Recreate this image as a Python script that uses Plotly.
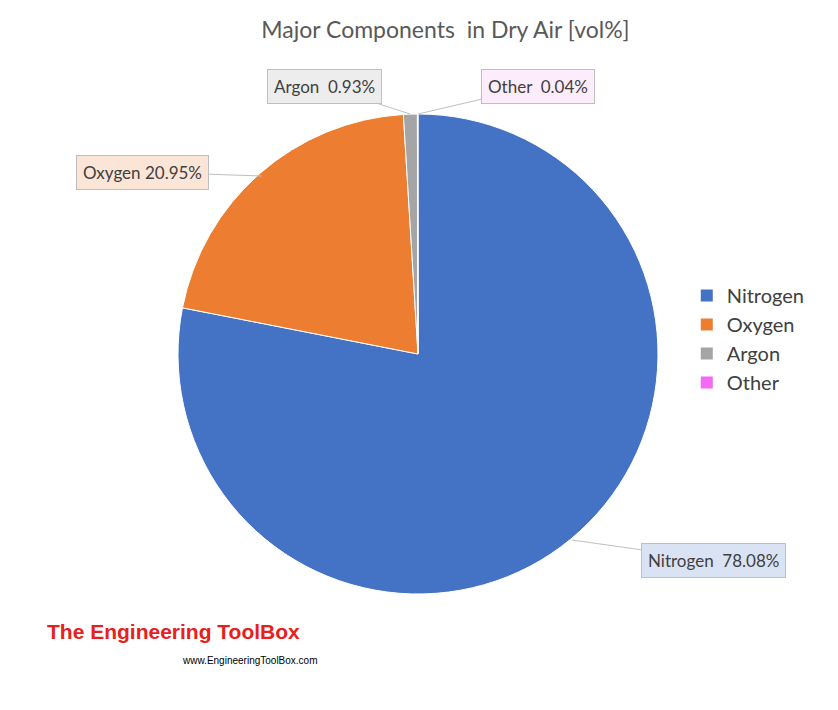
import plotly.graph_objects as go

components = ["Nitrogen", "Oxygen", "Argon", "Other"]
values = [78.08, 20.95, 0.93, 0.04]
label_texts = ["Nitrogen  78.08%", "Oxygen 20.95%", "Argon  0.93%", "Other  0.04%"]

colors = ["#4472C4", "#ED7D31", "#A5A5A5", "#F46AF4"]
box_bg = ["#DAE3F3", "#FBE5D6", "#EDEDED", "#FCECFC"]

W, H = 838, 710
fig = go.Figure(go.Pie(
    labels=components, values=values, sort=False, direction="clockwise", rotation=0,
    marker=dict(colors=colors, line=dict(color="white", width=1)),
    textinfo="none", hoverinfo="label+percent", showlegend=False,
    domain=dict(x=[170/W, 650/W], y=[1-586/H, 1-106/H]),
))
# legend entries (pie legend spacing cannot be widened)
for name, c in zip(components, colors):
    fig.add_trace(go.Scatter(x=[None], y=[None], mode="markers", name=name,
                             marker=dict(symbol="square", size=12, color=c)))

anchors = [((564, 532), (141, 20)), ((254, 168), (-120, -4)),
           ((402, 106), (-86, -28)), ((410, 106), (120, -28))]
for t, bg, ((px, py), (ax, ay)) in zip(label_texts, box_bg, anchors):
    fig.add_annotation(x=px/W, y=1-py/H, xref="paper", yref="paper", text=t,
                       showarrow=True, arrowhead=0, arrowwidth=1, arrowcolor="#BFBFBF",
                       ax=ax, ay=ay, bgcolor=bg, bordercolor="#BFBFBF", borderwidth=1,
                       borderpad=6, font=dict(size=17, color="#404040", family="Lato"))

fig.add_annotation(x=37/W, y=1-637/H, xref="paper", yref="paper", xanchor="left",
                   text="<b>The Engineering ToolBox</b>", showarrow=False,
                   font=dict(size=21, color="#E8201C", family="Liberation Sans Narrow, Liberation Sans"))
fig.add_annotation(x=172/W, y=1-660/H, xref="paper", yref="paper", xanchor="left",
                   text="www.EngineeringToolBox.com", showarrow=False,
                   font=dict(size=10, color="#000000", family="Liberation Sans"))

fig.update_layout(
    width=W, height=H, margin=dict(l=0, r=0, t=0, b=0),
    paper_bgcolor="white", plot_bgcolor="white",
    xaxis=dict(visible=False), yaxis=dict(visible=False),
    title=dict(text="Major Components  in Dry Air [vol%]", x=0.522, xanchor="center", y=1-22/H, yanchor="middle",
               font=dict(size=23, color="#595959", family="Lato")),
    legend=dict(x=0.81, y=1-268/H, yanchor="top", xanchor="left",
                font=dict(size=20, color="#404040", family="Lato"), tracegroupgap=18,
                traceorder="normal"),
)
fig.write_html("out.html")
